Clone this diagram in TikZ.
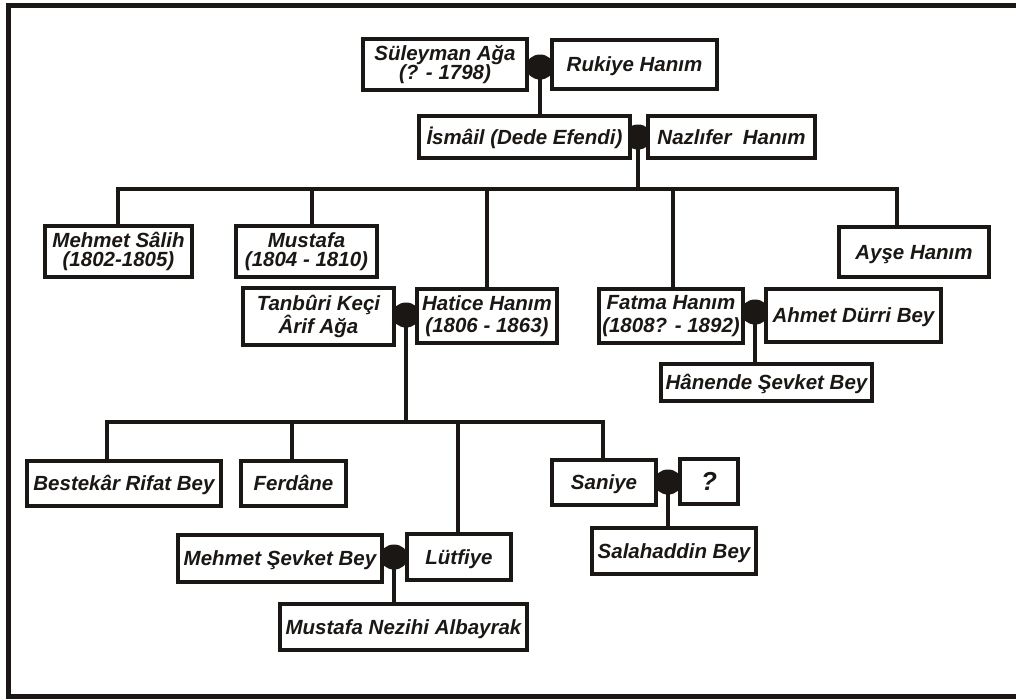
\documentclass[tikz,border=0pt]{standalone}
\usepackage{fontspec}
\setmainfont{Liberation Sans}
\usetikzlibrary{backgrounds,shapes.geometric}
\definecolor{ink}{HTML}{1A1714}
\tikzset{
  pbox/.style={draw=ink, line width=3.4pt, fill=white, inner sep=0pt, align=center,
    text=ink, font=\fontsize{20.5}{19.5}\selectfont\bfseries\itshape},
  oneline/.style={pbox, text height=14.5pt, text depth=0pt},
  loose/.style={font=\fontsize{20.5}{22.5}\selectfont\bfseries\itshape},
  dotnode/.style={ellipse, fill=ink, draw=none, minimum width=28pt, minimum height=25pt, inner sep=0pt},
  link/.style={draw=ink, line width=3.3pt},
  framel/.style={draw=ink, line width=5pt}
}
\begin{document}
\begin{tikzpicture}[x=1pt,y=-1pt]
\useasboundingbox (0,0) rectangle (1016,699);
\draw[framel] (8.5,5.5) rectangle (1024,696.5);
% boxes
\node[pbox, minimum width=164pt, minimum height=51pt] (sul) at (445,64.5) {Süleyman Ağa\\(? - 1798)};
\node[oneline, minimum width=165pt, minimum height=49pt] (ruk) at (634.5,64.5) {Rukiye Hanım};
\node[oneline, minimum width=211pt, minimum height=42pt] (ism) at (524.5,137) {İsmâil (Dede Efendi)};
\node[oneline, minimum width=167pt, minimum height=42pt] (naz) at (731.5,137) {Nazlıfer\ \ Hanım};
\node[pbox, minimum width=147pt, minimum height=51pt] (meh) at (118.5,251.5) {Mehmet Sâlih\\(1802-1805)};
\node[pbox, minimum width=141pt, minimum height=51pt] (mus) at (306.5,251.5) {Mustafa\\(1804 - 1810)};
\node[oneline, minimum width=150pt, minimum height=50pt] (ays) at (914,252) {Ayşe Hanım};
\node[pbox, loose, minimum width=151pt, minimum height=57pt] (tan) at (318.5,316.5) {Tanbûri Keçi\\Ârif Ağa};
\node[pbox, loose, minimum width=140pt, minimum height=54pt] (hat) at (487,316) {Hatice Hanım\\(1806 - 1863)};
\node[pbox, loose, minimum width=144pt, minimum height=54pt] (fat) at (671,316) {Fatma Hanım\\(1808? - 1892)};
\node[oneline, minimum width=175pt, minimum height=53pt] (ahm) at (853.5,315.5) {Ahmet Dürri Bey};
\node[oneline, minimum width=211pt, minimum height=37pt] (han) at (766.5,382.5) {Hânende Şevket Bey};
\node[oneline, minimum width=194pt, minimum height=45pt] (bes) at (124,483.5) {Bestekâr Rifat Bey};
\node[oneline, minimum width=105pt, minimum height=45pt] (fer) at (293.5,483.5) {Ferdâne};
\node[oneline, minimum width=104pt, minimum height=45pt] (san) at (604,482.5) {Saniye};
\node[oneline, minimum width=58pt, minimum height=45pt, text height=18pt] (q) at (709,481.5) {\fontsize{26}{26}\selectfont ?};
\node[oneline, minimum width=164pt, minimum height=46pt] (sal) at (674,551) {Salahaddin Bey};
\node[oneline, minimum width=204pt, minimum height=47pt] (mse) at (280,558.5) {Mehmet Şevket Bey};
\node[oneline, minimum width=104pt, minimum height=46pt] (lut) at (459,557) {Lütfiye};
\node[oneline, minimum width=247pt, minimum height=46pt] (mna) at (403.5,627) {Mustafa Nezihi Albayrak};
\begin{scope}[on background layer]
% couple dots
\node[dotnode] (d1) at (540,67) {};
\node[dotnode] (d2) at (638,137) {};
\node[dotnode] (d3) at (406,315) {};
\node[dotnode] (d4) at (755,312) {};
\node[dotnode] (d5) at (668,482) {};
\node[dotnode] (d6) at (394,557) {};
% bar coordinates
\coordinate (b1l) at (118,189);
\coordinate (b1r) at (897,189);
\coordinate (b1mus) at (312,189);
\coordinate (b1hat) at (487,189);
\coordinate (b1fat) at (673,189);
\coordinate (b2l) at (107,422);
\coordinate (b2r) at (603,422);
\coordinate (b2fer) at (292,422);
\coordinate (b2lut) at (458,422);
% connectors
\draw[link] (d1.center) -- (d1.center |- ism.north);
\draw[link] (d2.center) -- (d2.center |- b1l);
\draw[link] (b1l |- meh.north) -- (b1l) -- (b1r) -- (b1r |- ays.north);
\draw[link] (b1mus) -- (b1mus |- mus.north);
\draw[link] (b1hat) -- (b1hat |- hat.north);
\draw[link] (b1fat) -- (b1fat |- fat.north);
\draw[link] (d4.center) -- (d4.center |- han.north);
\draw[link] (d3.center) -- (d3.center |- b2l);
\draw[link] (b2l |- bes.north) -- (b2l) -- (b2r) -- (b2r |- san.north);
\draw[link] (b2fer) -- (b2fer |- fer.north);
\draw[link] (b2lut) -- (b2lut |- lut.north);
\draw[link] (d5.center) -- (d5.center |- sal.north);
\draw[link] (d6.center) -- (d6.center |- mna.north);
\end{scope}
\end{tikzpicture}
\end{document}
